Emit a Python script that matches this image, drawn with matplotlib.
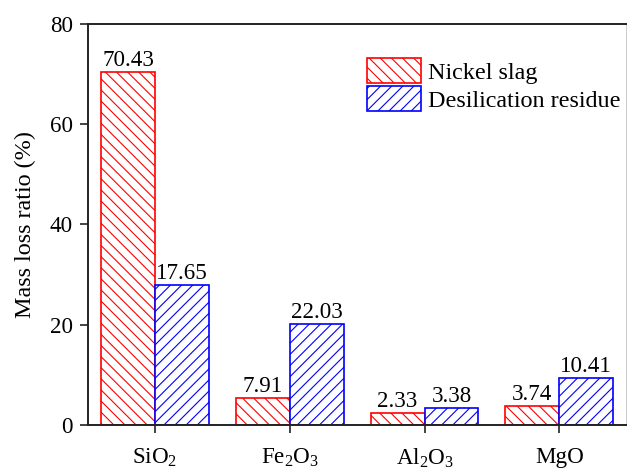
import numpy as np
import matplotlib
matplotlib.use("Agg")
from matplotlib import pyplot as plt

# 数据
oxides = ["SiO$_2$", "Fe$_2$O$_3$", "Al$_2$O$_3$", "MgO"]
nickel_slag = [70.43, 5.45, 2.3, 3.73]        # 柱高
desil_residue = [27.9, 20.15, 3.3, 9.38]
nickel_labels = ["70.43", "7.91", "2.33", "3.74"]  # 柱顶标注
desil_labels = ["17.65", "22.03", "3.38", "10.41"]

plt.rcParams["font.family"] = ["Liberation Serif", "DejaVu Serif"]
plt.rcParams["mathtext.fontset"] = "custom"
plt.rcParams["mathtext.rm"] = "Liberation Serif"
plt.rcParams["mathtext.it"] = "Liberation Serif:italic"
plt.rcParams["hatch.linewidth"] = 0.8

DPI = 100
fig = plt.figure(figsize=(6.27, 4.69), dpi=DPI)
ax = fig.add_axes([87.7 / 627, 1 - 425 / 469, 539 / 627, 401 / 469])

x = np.arange(len(oxides))
w = 0.4
b1 = ax.bar(x - w / 2, nickel_slag, w, color="white", edgecolor="red",
            hatch="\\\\\\", linewidth=1.2, label="Nickel slag")
b2 = ax.bar(x + w / 2, desil_residue, w, color="white", edgecolor="blue",
            hatch="///", linewidth=1.2, label="Desilication residue")

fs = 16.6
fs_big = 17.4
for bars, labels in [(b1, nickel_labels), (b2, desil_labels)]:
    for rect, lab in zip(bars, labels):
        ax.annotate(lab, (rect.get_x() + rect.get_width() / 2, rect.get_height()),
                    xytext=(0, 4.3), textcoords="offset points",
                    ha="center", va="baseline", fontsize=fs)

ax.set_xlim(-0.5, 3.5)
ax.set_ylim(0, 80)
ax.set_yticks([0, 20, 40, 60, 80])
ax.set_xticks(x)
ax.set_xticklabels(oxides)
ax.set_ylabel("Mass loss ratio (%)", fontsize=fs_big)
ax.yaxis.set_label_coords((36 - 87.7) / 539, 0.5)
ax.tick_params(axis="both", direction="out", length=6, width=1.2,
               labelsize=fs, color="#222222")
ax.tick_params(axis="y", pad=4.5)
ax.tick_params(axis="x", pad=9.5)
for s in ax.spines.values():
    s.set_linewidth(1.4)
    s.set_color("#222222")
ax.spines["right"].set_color("#cccccc")

ax.legend(loc="upper left", bbox_to_anchor=(367 / 627, 1 - 58.5 / 469),
          bbox_transform=fig.transFigure, frameon=False, fontsize=fs_big,
          handlelength=2.23, handleheight=1.21, labelspacing=0.08,
          handletextpad=0.28, borderpad=0, borderaxespad=0)

fig.savefig("out.png", dpi=DPI)
